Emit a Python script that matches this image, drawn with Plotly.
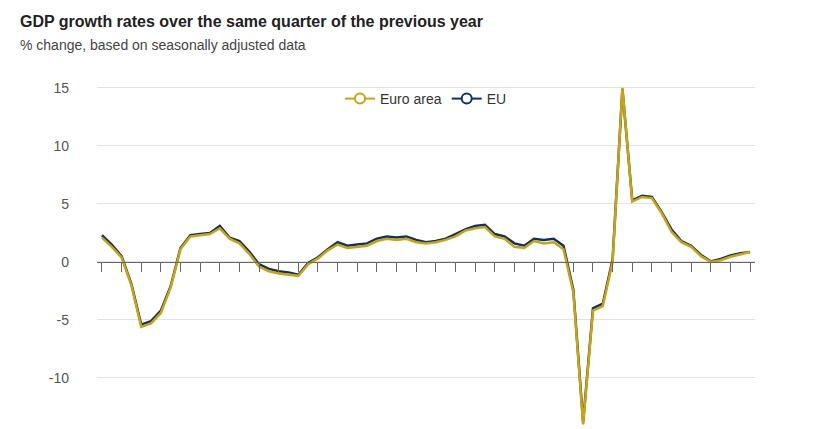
import plotly.graph_objects as go

# quarters 2008Q1 .. 2024Q3
quarters = [f"{y}Q{q}" for y in range(2008, 2025) for q in range(1, 5)][:67]

euro_area = [
    2.1, 1.3, 0.4, -2.0,
    -5.6, -5.3, -4.4, -2.2,
    1.1, 2.2, 2.3, 2.4,
    2.9, 2.0, 1.6, 0.7,
    -0.4, -0.8, -1.0, -1.1,
    -1.2, -0.2, 0.3, 1.0,
    1.5, 1.2, 1.3, 1.4,
    1.8, 2.0, 1.9, 2.0,
    1.7, 1.6, 1.7, 1.9,
    2.2, 2.7, 2.9, 3.0,
    2.2, 2.0, 1.3, 1.2,
    1.8, 1.6, 1.7, 1.1,
    -2.6, -14.0, -4.2, -3.8,
    0.0, 15.0, 5.2, 5.6,
    5.5, 4.2, 2.6, 1.7,
    1.3, 0.5, 0.0, 0.15,
    0.45, 0.65, 0.85,
]

eu = [
    2.3, 1.5, 0.5, -1.9,
    -5.4, -5.1, -4.2, -2.1,
    1.2, 2.3, 2.4, 2.5,
    3.1, 2.1, 1.8, 0.9,
    -0.2, -0.6, -0.8, -0.9,
    -1.1, -0.1, 0.4, 1.1,
    1.7, 1.4, 1.5, 1.6,
    2.0, 2.2, 2.1, 2.2,
    1.9, 1.7, 1.8, 2.0,
    2.4, 2.8, 3.1, 3.2,
    2.4, 2.2, 1.6, 1.4,
    2.0, 1.9, 2.0, 1.4,
    -2.4, -13.8, -4.0, -3.6,
    0.2, 14.9, 5.3, 5.7,
    5.6, 4.3, 2.8, 1.8,
    1.4, 0.6, 0.05, 0.26,
    0.55, 0.75, 0.85,
]

y_ticks = [15, 10, 5, 0, -5, -10]
y_tick_text = ["15", "10", "5", "0", "-5", "-10"]

ea_color = "#C9A40A"
eu_color = "#10306B"

y_min, y_max = -14.4, 15.25

W, H = 806, 421          # page body has an 8px margin
L, R, T, B = 89, 59, 77, 0
plot_h = H - T - B
plot_w = W - L - R

fig = go.Figure()

# EU drawn first so the euro area line sits on top
fig.add_trace(go.Scatter(x=quarters, y=eu, mode="lines", name="EU",
                         line=dict(color=eu_color, width=2.5), showlegend=False))
fig.add_trace(go.Scatter(x=quarters, y=euro_area, mode="lines", name="Euro area",
                         line=dict(color=ea_color, width=2.5), showlegend=False))

# legend entries (line with open circle)
for name, col in [("Euro area", ea_color), ("EU", eu_color)]:
    fig.add_trace(go.Scatter(x=[None], y=[None], mode="lines+markers", name=name,
                             line=dict(color=col, width=2),
                             marker=dict(symbol="circle", size=10, color="white",
                                         line=dict(color=col, width=2))))

fig.update_layout(
    width=W, height=H,
    margin=dict(l=L, r=R, t=T, b=B),
    paper_bgcolor="white", plot_bgcolor="white",
    font=dict(family="Liberation Sans, Arial, sans-serif", color="#333"),
    title=dict(text="<b>GDP growth rates over the same quarter of the previous year</b>",
               font=dict(size=16, color="#222"),
               x=12 / W, xanchor="left", xref="container",
               y=1 - 13 / H, yanchor="middle", yref="container"),
    legend=dict(orientation="h", x=0.5, xanchor="center",
                y=(H - 91) / plot_h, yanchor="middle",
                font=dict(size=14, color="#333"), bgcolor="rgba(0,0,0,0)",
                itemwidth=30),
    showlegend=True,
    hovermode="x unified",
)

fig.add_annotation(text="% change, based on seasonally adjusted data",
                   xref="paper", yref="paper",
                   x=(10 - L) / plot_w, y=(H - 37) / plot_h,
                   xanchor="left", yanchor="middle", showarrow=False,
                   font=dict(size=14, color="#444"))

fig.update_xaxes(
    type="category", range=[-0.5, len(quarters) - 0.5],
    anchor="free", position=(0 - y_min) / (y_max - y_min),
    showline=True, linecolor="#666", linewidth=1,
    ticks="outside", ticklen=9, tickcolor="#666", tickwidth=1,
    showticklabels=False, showgrid=False, zeroline=False,
)
fig.update_yaxes(
    range=[y_min, y_max],
    tickvals=y_ticks, ticktext=y_tick_text,
    tickfont=dict(size=14, color="#555"),
    ticklabelstandoff=27,
    showgrid=True, gridcolor="#e3e3e3", gridwidth=1,
    zeroline=False, showline=False,
)

fig.write_html("out.html")
